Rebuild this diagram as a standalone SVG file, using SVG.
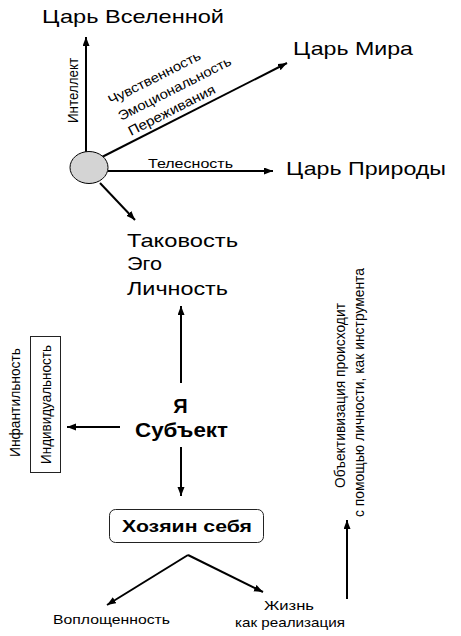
<svg xmlns="http://www.w3.org/2000/svg" width="461" height="636" viewBox="0 0 461 636">
<defs>
<style>
.t{font-family:"Liberation Sans",Arial,sans-serif;fill:#000}
.big{font-size:19px}
.mid{font-size:18.5px}
.sm{font-size:13.5px}
.vt{font-size:14px}
.xs{font-size:12.5px}
.b{font-weight:bold}
.ln{stroke:#000;stroke-width:2;fill:none;marker-end:url(#ah)}
</style>
<marker id="ah" markerUnits="userSpaceOnUse" markerWidth="10" markerHeight="8" refX="9" refY="3.5" orient="auto">
<path d="M0,0 L9,3.5 L0,7 z" fill="#000"/>
</marker>
</defs>
<rect width="461" height="636" fill="#fff"/>
<g id="connectors">
<line class="ln" x1="86" y1="152" x2="86" y2="37"/>
<line class="ln" x1="102" y1="157" x2="287" y2="63"/>
<line class="ln" x1="108" y1="171" x2="273" y2="171"/>
<line class="ln" x1="100" y1="183" x2="135" y2="220"/>
<line class="ln" x1="181" y1="383" x2="181" y2="306"/>
<line class="ln" x1="120" y1="427" x2="67" y2="427"/>
<line class="ln" x1="181" y1="447" x2="181" y2="496"/>
<line class="ln" x1="188" y1="555" x2="107" y2="605"/>
<line class="ln" x1="188" y1="555" x2="263" y2="592"/>
<line class="ln" x1="347" y1="599" x2="347" y2="520"/>
</g>
<g id="center">
<ellipse cx="89" cy="167.5" rx="19" ry="16" fill="#d4d4d4" stroke="#000" stroke-width="1"/>
</g>
<g id="tsar-universe"><text class="t mid" x="42" y="23" textLength="182" lengthAdjust="spacingAndGlyphs">Царь Вселенной</text></g>
<g id="tsar-world"><text class="t mid" x="293" y="55" textLength="120" lengthAdjust="spacingAndGlyphs">Царь Мира</text></g>
<g id="tsar-nature"><text class="t mid" x="286" y="175" textLength="160" lengthAdjust="spacingAndGlyphs">Царь Природы</text></g>
<g id="labels-top">
<text class="t vt" transform="translate(78,123) rotate(-90)" textLength="65" lengthAdjust="spacingAndGlyphs">Интеллект</text>
<text class="t sm" transform="translate(111,105) rotate(-27)" textLength="102" lengthAdjust="spacingAndGlyphs">Чувственность</text>
<text class="t sm" transform="translate(121,121) rotate(-27)" textLength="125" lengthAdjust="spacingAndGlyphs">Эмоциональность</text>
<text class="t sm" transform="translate(131,136) rotate(-27)" textLength="96" lengthAdjust="spacingAndGlyphs">Переживания</text>
<text class="t xs" x="148" y="168" textLength="85" lengthAdjust="spacingAndGlyphs">Телесность</text>
</g>
<g id="ego">
<text class="t big" x="127" y="247" textLength="111" lengthAdjust="spacingAndGlyphs">Таковость</text>
<text class="t big" x="127" y="270" textLength="35" lengthAdjust="spacingAndGlyphs">Эго</text>
<text class="t big" x="127" y="295" textLength="101" lengthAdjust="spacingAndGlyphs">Личность</text>
</g>
<g id="subject">
<text class="t b" font-size="20" x="180.5" y="413" text-anchor="middle">Я</text>
<text class="t b" font-size="20.5" x="135" y="437" textLength="93" lengthAdjust="spacingAndGlyphs">Субъект</text>
</g>
<g id="individuality">
<rect x="30.5" y="336.5" width="30" height="136" fill="none" stroke="#222" stroke-width="1"/>
<text class="t vt" transform="translate(51,464) rotate(-90)" textLength="119" lengthAdjust="spacingAndGlyphs">Индивидуальность</text>
</g>
<g id="infantility">
<text class="t vt" transform="translate(20,457) rotate(-90)" textLength="109" lengthAdjust="spacingAndGlyphs">Инфантильность</text>
</g>
<g id="master">
<rect x="109.5" y="509.5" width="154" height="33" rx="6" fill="none" stroke="#222" stroke-width="1"/>
<text class="t b" font-size="16.5" x="122" y="532" textLength="130" lengthAdjust="spacingAndGlyphs">Хозяин себя</text>
</g>
<g id="embodiment"><text class="t sm" x="53" y="624" textLength="117" lengthAdjust="spacingAndGlyphs">Воплощенность</text></g>
<g id="life">
<text class="t sm" x="264" y="610" textLength="50" lengthAdjust="spacingAndGlyphs">Жизнь</text>
<text class="t sm" x="235" y="627" textLength="110" lengthAdjust="spacingAndGlyphs">как реализация</text>
</g>
<g id="objectivation">
<text class="t vt" transform="translate(345,488) rotate(-90)" textLength="185" lengthAdjust="spacingAndGlyphs">Объективизация происходит</text>
<text class="t vt" transform="translate(364,517) rotate(-90)" textLength="249" lengthAdjust="spacingAndGlyphs">с помощью личности, как инструмента</text>
</g>
</svg>
